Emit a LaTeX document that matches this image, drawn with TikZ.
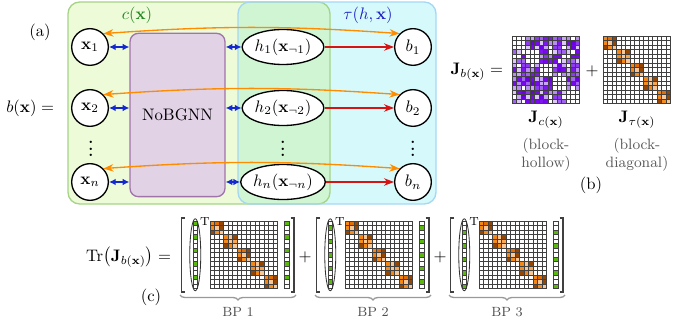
\documentclass[tikz,border=0pt]{standalone}
\usepackage{amsmath,amssymb}
\usepackage{xcolor}
\usepackage{tikz}
\usetikzlibrary{shapes.geometric,arrows.meta,positioning,decorations.pathreplacing}

\definecolor{boxgreen}{RGB}{238,251,216}
\definecolor{boxgreenline}{RGB}{165,212,135}
\definecolor{boxcyan}{RGB}{214,250,252}
\definecolor{boxcyanline}{RGB}{165,215,245}
\definecolor{boxmix}{RGB}{208,245,210}
\definecolor{gnnfill}{RGB}{226,210,230}
\definecolor{gnnline}{RGB}{160,115,170}
\definecolor{arrorange}{RGB}{255,140,0}
\definecolor{arrred}{RGB}{215,20,20}
\definecolor{arrblue}{RGB}{20,40,210}
\definecolor{labgreen}{RGB}{30,135,30}
\definecolor{labblue}{RGB}{30,30,200}
% purple shades (0 = empty)
\definecolor{purp0}{RGB}{255,255,255}
\definecolor{purp1}{RGB}{200,165,246}
\definecolor{purp2}{RGB}{200,165,246}
\definecolor{purp3}{RGB}{185,140,244}
\definecolor{purp4}{RGB}{160,100,240}
\definecolor{purp5}{RGB}{140,60,238}
\definecolor{purp6}{RGB}{118,10,235}
\definecolor{purp7}{RGB}{118,10,235}
\definecolor{purp8}{RGB}{108,0,228}
\definecolor{purp9}{RGB}{125,25,236}
\definecolor{purp10}{RGB}{220,200,248}
% orange shades (0 = empty)
\definecolor{orng0}{RGB}{255,255,255}
\definecolor{orng1}{RGB}{250,200,150}
\definecolor{orng2}{RGB}{250,165,80}
\definecolor{orng3}{RGB}{245,135,20}
\definecolor{orng4}{RGB}{225,110,5}
\definecolor{orng5}{RGB}{150,70,3}
\definecolor{orng6}{RGB}{245,140,30}
\definecolor{vec0}{RGB}{255,255,255}
\definecolor{vec1}{RGB}{90,185,10}

\tikzset{
  var/.style={circle, draw=black, thick, fill=white,
              minimum size=22pt, inner sep=0pt},
  hnode/.style={ellipse, draw=black, thick, fill=white,
                minimum width=49pt, minimum height=21pt, inner sep=0pt},
  gnn/.style={rectangle, rounded corners=5pt, draw=gnnline, fill=gnnfill,
              line width=0.8pt, minimum width=57pt, minimum height=98pt},
  msg/.style={{Latex[length=4pt,width=4pt]}-{Latex[length=4pt,width=4pt]}, thick, arrblue},
  tauflow/.style={-{Stealth[length=6pt]}, thick, arrred},
  loopflow/.style={{Stealth[length=6pt]}-{Stealth[length=6pt]}, thick, arrorange},
  cell/.style={draw=black!75, line width=0.25pt},
  brk/.style={line width=0.9pt, black!75},
  bplabel/.style={font=\footnotesize, black!70},
  note/.style={font=\small, black!65, align=center, inner sep=1pt},
  vdotsnode/.style={font=\Large, inner sep=0pt},
}

\begin{document}
\begin{tikzpicture}[x=0.6pt, y=0.6pt]
\useasboundingbox (0,0) rectangle (674,-321);

% (a) background boxes
\fill[boxgreen, rounded corners=7pt] (68,-2) rectangle (330,-204);
\fill[boxcyan, rounded corners=7pt] (238,-2) rectangle (436,-204);
\begin{scope}
  \clip[rounded corners=7pt] (68,-2) rectangle (330,-204);
  \fill[boxmix, rounded corners=7pt] (238,-2) rectangle (436,-204);
\end{scope}
\draw[boxgreenline, line width=0.8pt, rounded corners=7pt] (68,-2) rectangle (330,-204);
\draw[boxcyanline, line width=0.8pt, rounded corners=7pt] (238,-2) rectangle (436,-204);

\node[labgreen] (clab) at (137,-15) {$c(\mathbf{x})$};
\node[labblue] (taulab) at (368,-15) {$\tau(h,\mathbf{x})$};
\node (alab) at (40,-32) {(a)};
\node[anchor=east] (bx) at (60,-108) {$b(\mathbf{x}) =$};

% variable nodes
\node[var] (x1) at (90,-47) {$\mathbf{x}_1$};
\node[var] (x2) at (90,-108) {$\mathbf{x}_2$};
\node[var] (xn) at (90,-182) {$\mathbf{x}_n$};
\node[vdotsnode] (xdots) at (91,-144) {$\vdots$};

\node[gnn] (gnn) at (177.5,-115) {NoBGNN};

\node[hnode] (h1) at (283,-47) {$h_1(\mathbf{x}_{\neg 1})$};
\node[hnode] (h2) at (283,-108) {$h_2(\mathbf{x}_{\neg 2})$};
\node[hnode] (hn) at (283,-182) {$h_n(\mathbf{x}_{\neg n})$};
\node[vdotsnode] (hdots) at (283,-144) {$\vdots$};

\node[var] (b1) at (413,-47) {$b_1$};
\node[var] (b2) at (413,-108) {$b_2$};
\node[var] (bn) at (413,-182) {$b_n$};
\node[vdotsnode] (bdots) at (413,-144) {$\vdots$};

% flows
\foreach \r in {1,2,n} {
  \draw[msg] (x\r.east) -- (gnn.west |- x\r);
  \draw[msg] (gnn.east |- h\r) -- (h\r.west);
  \draw[tauflow] (h\r) -- (b\r);
  \draw[loopflow] (x\r.north east) to[bend left=4] (b\r.north west);
}

% (b) Jacobian split
\node[anchor=east] (jb) at (509,-72) {$\mathbf{J}_{b(\mathbf{x})} =$};
\begin{scope}[shift={(512,-36)}]
  \foreach \i in {0,...,14}
    \foreach \j in {0,...,14} {
      \pgfmathtruncatemacro\bi{\i/3}
      \pgfmathtruncatemacro\bj{\j/3}
      \pgfmathtruncatemacro\lvl{mod(7*\i*\i+3*\j*\j+5*\i*\j+2*\i+10*\j+1,11)}
      \ifnum\bi=\bj \def\lvl{0}\fi
      \filldraw[cell, fill=purp\lvl] (\j*4.5,-\i*4.5) rectangle ++(4.5,-4.5);
    }
\end{scope}
\node (plus0) at (592,-71) {$+$};
\begin{scope}[shift={(603,-36)}]
  \foreach \i in {0,...,14}
    \foreach \j in {0,...,14} {
      \pgfmathtruncatemacro\bi{\i/3}
      \pgfmathtruncatemacro\bj{\j/3}
      \pgfmathtruncatemacro\lvl{mod(5*\i+7*\j+3*\i*\j+\i*\i+2,6)+1}
      \ifnum\bi=\bj \else \def\lvl{0}\fi
      \filldraw[cell, fill=orng\lvl] (\j*4.5,-\i*4.5) rectangle ++(4.5,-4.5);
    }
\end{scope}
\node (jc) at (546,-120) {$\mathbf{J}_{c(\mathbf{x})}$};
\node[note, below=1pt of jc] (jcnote) {(block-\\hollow)};
\node (jt) at (637,-120) {$\mathbf{J}_{\tau(\mathbf{x})}$};
\node[note, below=1pt of jt] (jtnote) {(block-\\diagonal)};
\node (blab) at (591,-185) {(b)};

% (c) trace as sum of probes
\node[anchor=east] (tr) at (177,-257) {$\mathrm{Tr}\bigl(\mathbf{J}_{b(\mathbf{x})}\bigr) =$};
\node (clab) at (151,-297) {(c)};
\node (plus1) at (305,-257) {$+$};
\node (plus2) at (440,-257) {$+$};

\foreach \k/\mx in {1/210,2/345,3/479} {
  \begin{scope}[shift={(\mx,-221)}]
    % probe vectors
    \foreach \i in {0,...,14} {
      \pgfmathtruncatemacro\g{mod(\i,3)==(\k-1)}
      \filldraw[cell, fill=vec\g] (-17,-\i*4.5) rectangle ++(4.5,-4.5);
      \filldraw[cell, fill=vec\g] (74.5,-\i*4.5) rectangle ++(4.5,-4.5);
    }
    \draw[black!80, line width=0.5pt] (-14.75,-33.75) ellipse [x radius=5.5, y radius=36];
    \node[font=\scriptsize, inner sep=0pt] (T\k) at (-5,-1) {T};
    % block-diagonal Jacobian
    \foreach \i in {0,...,14}
      \foreach \j in {0,...,14} {
        \pgfmathtruncatemacro\bi{\i/3}
        \pgfmathtruncatemacro\bj{\j/3}
        \pgfmathtruncatemacro\lvl{mod(5*\i+7*\j+3*\i*\j+\i*\i+2,6)+1}
        \ifnum\bi=\bj \else \def\lvl{0}\fi
        \filldraw[cell, fill=orng\lvl] (\j*4.5,-\i*4.5) rectangle ++(4.5,-4.5);
      }
    % brackets
    \draw[brk] (-25,3) -- (-28.5,3) -- (-28.5,-71) -- (-25,-71);
    \draw[brk] (80.5,3) -- (84,3) -- (84,-71) -- (80.5,-71);
    \draw[decorate, decoration={brace, mirror, amplitude=3pt}, black!40, thick]
      (-30,-74) -- (86,-74) node[midway, below=4pt, bplabel] (bp\k) {BP \k};
  \end{scope}
}

\end{tikzpicture}
\end{document}
